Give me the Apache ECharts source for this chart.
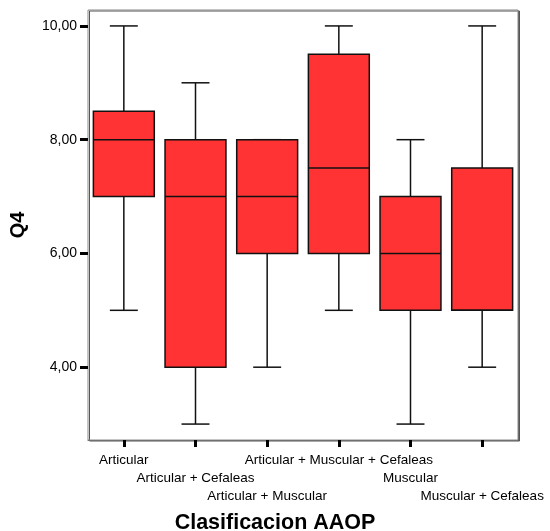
<!DOCTYPE html>
<html>
<head>
<meta charset="utf-8">
<script src="https://cdn.jsdelivr.net/npm/echarts@6/dist/echarts.min.js"></script>
<style>
  html, body { margin: 0; padding: 0; background: #fff; }
  #chart { width: 550px; height: 531px; }
</style>
</head>
<body>
<div id="chart"></div>
<script>
// Groups of the AAOP classification
const categories = [
  'Articular',
  'Articular + Cefaleas',
  'Articular + Muscular',
  'Articular + Muscular + Cefaleas',
  'Muscular',
  'Muscular + Cefaleas'
];

// Five-number summary of Q4 per group
const whiskerLow  = [5, 3, 4, 5, 3, 4];
const quartile1   = [7, 4, 6, 6, 5, 5];
const medians     = [8, 7, 7, 7.5, 6, 5];
const quartile3   = [8.5, 8, 8, 9.5, 7, 7.5];
const whiskerHigh = [10, 9, 8, 10, 8, 10];

// Value axis labels
const yTicks = [4, 6, 8, 10];

const boxData = categories.map((c, i) =>
  [i, whiskerLow[i], quartile1[i], medians[i], quartile3[i], whiskerHigh[i]]);

const FONT = 'Liberation Sans, Arial, sans-serif';
const chart = echarts.init(document.getElementById('chart'), null, { renderer: 'canvas' });

function renderBox(params, api) {
  const i = api.value(0);
  const lo = api.coord([i, api.value(1)]);
  const q1 = api.coord([i, api.value(2)]);
  const md = api.coord([i, api.value(3)]);
  const q3 = api.coord([i, api.value(4)]);
  const hi = api.coord([i, api.value(5)]);
  const band = api.size([1, 0])[0];
  const bw = band * 0.85;
  const cw = band * 0.39;
  const x = lo[0];
  const stroke = { stroke: '#111', lineWidth: 1.5 };
  const line = (x1, y1, x2, y2) => ({
    type: 'line', shape: { x1, y1, x2, y2 }, style: stroke
  });
  return {
    type: 'group',
    children: [
      line(x, hi[1], x, q3[1]),
      line(x, q1[1], x, lo[1]),
      line(x - cw / 2, hi[1], x + cw / 2, hi[1]),
      line(x - cw / 2, lo[1], x + cw / 2, lo[1]),
      {
        type: 'rect',
        shape: { x: x - bw / 2, y: q3[1], width: bw, height: q1[1] - q3[1] },
        style: { fill: '#ff3333', stroke: '#111', lineWidth: 1.5 }
      },
      line(x - bw / 2, md[1], x + bw / 2, md[1])
    ]
  };
}

chart.setOption({
  animation: false,
  backgroundColor: '#fff',
  title: {
    text: 'Clasificacion AAOP',
    left: 'center',
    top: 507,
    textStyle: { fontFamily: FONT, fontWeight: 'bold', fontSize: 21.5, color: '#000' }
  },
  grid: {
    left: 87, top: 10, right: 32, bottom: 91,
    show: true, borderColor: '#8a8a8a', borderWidth: 1, backgroundColor: '#fff',
    shadowColor: '#555', shadowOffsetX: 1.5, shadowOffsetY: 1, shadowBlur: 0
  },
  xAxis: {
    type: 'category',
    data: categories,
    boundaryGap: true,
    axisLine: { show: true, lineStyle: { color: '#707070', width: 1 } },
    axisTick: { show: true, alignWithLabel: true, length: 7, lineStyle: { color: '#000', width: 3 } },
    axisLabel: {
      interval: 0,
      margin: 11,
      fontFamily: FONT,
      fontSize: 13.5,
      lineHeight: 18.3,
      color: '#000',
      formatter: (v, idx) => '\n'.repeat(idx % 3) + v
    },
    splitLine: { show: false }
  },
  yAxis: {
    type: 'value',
    min: 2.72,
    max: 10.28,
    name: 'Q4',
    nameLocation: 'middle',
    nameGap: 60,
    nameRotate: 90,
    nameTextStyle: { fontFamily: FONT, fontWeight: 'bold', fontSize: 20, color: '#000' },
    axisLine: { show: false },
    axisTick: { show: true, customValues: yTicks, length: 8, lineStyle: { color: '#000', width: 3 } },
    axisLabel: {
      customValues: yTicks,
      margin: 11,
      fontFamily: FONT,
      fontSize: 14,
      color: '#000',
      formatter: v => v.toFixed(2).replace('.', ',')
    },
    splitLine: { show: false }
  },
  series: [{
    type: 'custom',
    renderItem: renderBox,
    encode: { x: 0, y: [1, 2, 3, 4, 5] },
    data: boxData,
    clip: false
  }]
});
</script>
</body>
</html>
